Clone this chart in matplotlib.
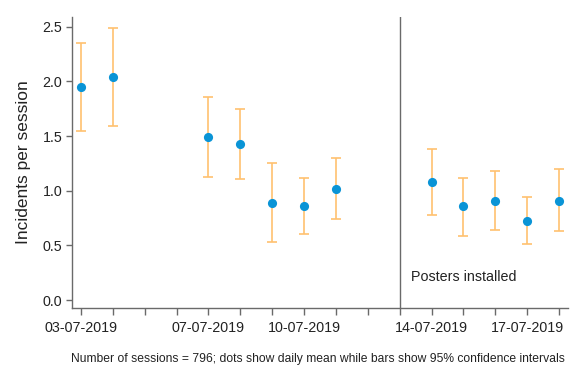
import matplotlib
matplotlib.use("Agg")
import matplotlib.pyplot as plt
import numpy as np

plt.rcParams['font.family'] = ['Liberation Sans', 'DejaVu Sans']

# Day index counted from 03-07-2019
days = [0, 1, 4, 5, 6, 7, 8, 11, 12, 13, 14, 15]
means = [1.95, 2.04, 1.49, 1.43, 0.89, 0.86, 1.02, 1.08, 0.86, 0.91, 0.72, 0.91]
ci_low = [1.55, 1.59, 1.13, 1.11, 0.53, 0.60, 0.74, 0.78, 0.59, 0.645, 0.51, 0.63]
ci_high = [2.35, 2.49, 1.86, 1.75, 1.25, 1.12, 1.30, 1.38, 1.12, 1.18, 0.94, 1.195]

tick_pos = list(range(16))
tick_labels = {0: '03-07-2019', 4: '07-07-2019', 7: '10-07-2019',
               11: '14-07-2019', 14: '17-07-2019'}
intervention_day = 10
intervention_text = 'Posters installed'
y_ticks = [0.0, 0.5, 1.0, 1.5, 2.0, 2.5]
footnote = 'Number of sessions = 796; dots show daily mean while bars show 95% confidence intervals'

fig = plt.figure(figsize=(5.72, 3.65), dpi=100)
ax = fig.add_axes([72 / 572, 1 - 308 / 365, (568 - 72) / 572, (308 - 17) / 365])

means_a = np.array(means)
yerr = np.vstack([means_a - np.array(ci_low), np.array(ci_high) - means_a])
ax.errorbar(days, means, yerr=yerr, fmt='none', ecolor='#ffc16f',
            elinewidth=1.2, capsize=3.6, capthick=1.2, zorder=2)
ax.plot(days, means, 'o', color='#0a94d6', markersize=6.6,
        markeredgewidth=0, zorder=3)

ax.axvline(intervention_day, color='#6a6a6a', linewidth=1.0, zorder=1)
ax.text(intervention_day + 0.35, 0.21, intervention_text, fontsize=10.3,
        color='#222222', va='center', ha='left')

ax.set_xlim(-0.28, 15.28)
ax.set_ylim(-0.073, 2.59)
ax.set_xticks(tick_pos)
ax.set_xticklabels([tick_labels.get(p, '') for p in tick_pos])
ax.set_yticks(y_ticks)
ax.set_yticklabels([f'{v:.1f}' for v in y_ticks])
ax.set_ylabel('Incidents per session', fontsize=12.5, color='#222222', labelpad=8)

for side in ['top', 'right']:
    ax.spines[side].set_visible(False)
for side in ['left', 'bottom']:
    ax.spines[side].set_color('#6a6a6a')
    ax.spines[side].set_linewidth(1.0)
ax.tick_params(axis='both', colors='#6a6a6a', labelcolor='#222222',
               labelsize=10.3, width=1.0)
ax.tick_params(axis='x', length=5, pad=4)
ax.tick_params(axis='y', length=4, pad=3)

fig.text(317.5 / 572, 1 - 359 / 365, footnote, fontsize=8.7, color='#222222',
         ha='center', va='center')

fig.savefig('out.png', dpi=100)
